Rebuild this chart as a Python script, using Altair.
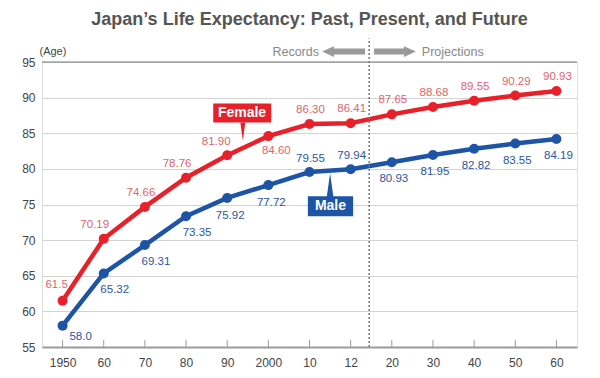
import json
import altair as alt
import pandas as pd

# ---------------- data ----------------
years = ["1950", "60", "70", "80", "90", "2000", "10", "12", "20", "30", "40", "50", "60"]
female = [61.5, 70.19, 74.66, 78.76, 81.90, 84.60, 86.30, 86.41, 87.65, 88.68, 89.55, 90.29, 90.93]
male = [58.0, 65.32, 69.31, 73.35, 75.92, 77.72, 79.55, 79.94, 80.93, 81.95, 82.82, 83.55, 84.19]
y_ticks = [55, 60, 65, 70, 75, 80, 85, 90, 95]


def fmt(v, i):
    return f"{v:.1f}" if i == 0 else f"{v:.2f}"


rows = []
for i, (yr, f, m) in enumerate(zip(years, female, male)):
    rows.append(dict(idx=i, year=yr, sex="Female", value=f, label=fmt(f, i)))
    rows.append(dict(idx=i, year=yr, sex="Male", value=m, label=fmt(m, i)))
df = pd.DataFrame(rows)
one = pd.DataFrame({"k": [0]})

# ---------------- style ----------------
FONT = "Liberation Sans"
RED = "#e8202a"
BLUE = "#1e54a6"
RED_TXT = "#e2636d"
BLUE_TXT = "#2a56a3"
GRAY = "#9a9a9a"

xs = alt.Scale(domain=[-0.5, 12.5], nice=False, zero=False)
ys = alt.Scale(domain=[55, 95], nice=False, zero=False)

x_axis = alt.Axis(
    values=list(range(len(years))),
    labelExpr=json.dumps(years) + "[datum.value]",
    ticks=False, grid=False, domainColor=GRAY, domainWidth=2,
    labelPadding=10, labelFontSize=12, labelColor="#444", labelFont=FONT,
    title=None,
)
y_axis = alt.Axis(
    values=y_ticks, grid=True, gridColor="#d3d3d3", gridWidth=1,
    domain=False, ticks=False, labelPadding=7, labelFontSize=12,
    labelColor="#444", labelFont=FONT,
    title="(Age)", titleAngle=0, titleX=-3, titleY=-11, titleAlign="left",
    titleBaseline="middle", titleFont=FONT, titleFontSize=11,
    titleFontWeight="normal", titleColor="#444",
)

color = alt.Color("sex:N", scale=alt.Scale(domain=["Female", "Male"], range=[RED, BLUE]), legend=None)
X = alt.X("idx:Q", scale=xs, axis=x_axis)
Y = alt.Y("value:Q", scale=ys, axis=y_axis)

base = alt.Chart(df)

lines = base.mark_line(strokeWidth=4.5).encode(x=X, y=Y, color=color)
points = base.mark_circle(size=100, opacity=1).encode(x=X, y=Y, color=color)


def val_labels(sex, idxs, dx, dy, col):
    return (
        base.transform_filter(alt.datum.sex == sex)
        .transform_filter(alt.FieldOneOfPredicate(field="idx", oneOf=idxs))
        .mark_text(dx=dx, dy=dy, color=col, font=FONT, fontSize=11.5, baseline="middle")
        .encode(x=X, y=Y, text="label:N")
    )


labels = [
    val_labels("Female", [0], -6, -16, RED_TXT),
    val_labels("Female", [1, 3], -9, -14, RED_TXT),
    val_labels("Female", [2], -4, -14, RED_TXT),
    val_labels("Female", [4], -11, -13, RED_TXT),
    val_labels("Female", [5], 8, 15, RED_TXT),
    val_labels("Female", [6, 7, 8, 9, 10, 11, 12], 1, -14, RED_TXT),
    val_labels("Male", [0], 18, 11, BLUE_TXT),
    val_labels("Male", [1, 2, 3], 11, 17, BLUE_TXT),
    val_labels("Male", [4, 5], 3, 18, BLUE_TXT),
    val_labels("Male", [6, 7], 1, -13, BLUE_TXT),
    val_labels("Male", [8, 9, 10, 11, 12], 2, 17, BLUE_TXT),
]


def xd(v):
    return alt.XDatum(v, scale=xs, axis=x_axis)


def yd(v):
    return alt.YDatum(v, scale=ys, axis=y_axis)


ann = alt.Chart(one)

# top (95) line darker, tick marks on x axis, divider
top_line = ann.mark_rule(color="#7a7a7a", strokeWidth=1.2).encode(x=xd(-0.5), x2=alt.X2Datum(12.5), y=yd(95))
tick_df = pd.DataFrame({"idx": list(range(len(years)))})
ticks = alt.Chart(tick_df).mark_rule(color=GRAY, strokeWidth=1).encode(
    x=X, y=yd(55), y2=alt.Y2Datum(56)
)
divider = ann.mark_rule(color="#777", strokeWidth=1.5, strokeDash=[2, 2]).encode(
    x=xd(7.45), y=yd(55), y2=alt.Y2Datum(98.3)
)

# records / projections arrows
ARROW_Y = 96.46
l_body = ann.mark_rule(color=GRAY, strokeWidth=6).encode(x=xd(6.5), x2=alt.X2Datum(7.35), y=yd(ARROW_Y))
r_body = ann.mark_rule(color=GRAY, strokeWidth=6).encode(x=xd(7.57), x2=alt.X2Datum(8.36), y=yd(ARROW_Y))
l_head = ann.mark_point(shape="M-1,0 L1,-0.9 L1,0.9 Z", size=144, filled=True, opacity=1, color=GRAY).encode(x=xd(6.45), y=yd(ARROW_Y))
r_head = ann.mark_point(shape="M1,0 L-1,-0.9 L-1,0.9 Z", size=144, filled=True, opacity=1, color=GRAY).encode(x=xd(8.44), y=yd(ARROW_Y))
rec_txt = ann.mark_text(text="Records", align="right", baseline="middle", font=FONT, fontSize=12.5, color="#888").encode(x=xd(6.23), y=yd(ARROW_Y))
proj_txt = ann.mark_text(text="Projections", align="left", baseline="middle", font=FONT, fontSize=12.5, color="#888").encode(x=xd(8.73), y=yd(ARROW_Y))

# callouts
f_box = ann.mark_rect(color=RED).encode(x=xd(3.66), x2=alt.X2Datum(5.07), y=yd(89.17), y2=alt.Y2Datum(86.51))
f_ptr = ann.mark_point(shape="M-0.28,-1 L0.28,-1 L0,1 Z", size=324, filled=True, opacity=1, color=RED).encode(x=xd(4.38), y=yd(85.25))
f_txt = ann.mark_text(text="Female", font=FONT, fontSize=14, fontWeight="bold", color="white", baseline="middle").encode(x=xd(4.36), y=yd(87.84))

m_box = ann.mark_rect(color=BLUE).encode(x=xd(5.96), x2=alt.X2Datum(7.06), y=yd(76.15), y2=alt.Y2Datum(73.35))
m_ptr = ann.mark_point(shape="M-0.28,1 L0.28,1 L0,-1 Z", size=576, filled=True, opacity=1, color=BLUE).encode(x=xd(6.5), y=yd(77.69))
m_txt = ann.mark_text(text="Male", font=FONT, fontSize=14, fontWeight="bold", color="white", baseline="middle").encode(x=xd(6.51), y=yd(74.75))

chart = alt.layer(
    lines, top_line, ticks, divider, points, *labels,
    l_body, r_body, l_head, r_head, rec_txt, proj_txt,
    f_ptr, f_box, f_txt, m_ptr, m_box, m_txt,
).properties(
    width=535,
    height=285,
    padding={"left": 34, "top": 54, "right": 15, "bottom": 25},
    autosize=alt.AutoSizeParams(type="none"),
    title=alt.TitleParams(
        text="Japan\u2019s Life Expectancy: Past, Present, and Future",
        font=FONT, fontSize=18, fontWeight="bold", color="#555555",
        anchor="middle", frame="group", offset=9,
    ),
).configure_view(strokeWidth=0).configure(background="white")

chart.save("out.html", embed_options={"renderer": "svg", "actions": False})
